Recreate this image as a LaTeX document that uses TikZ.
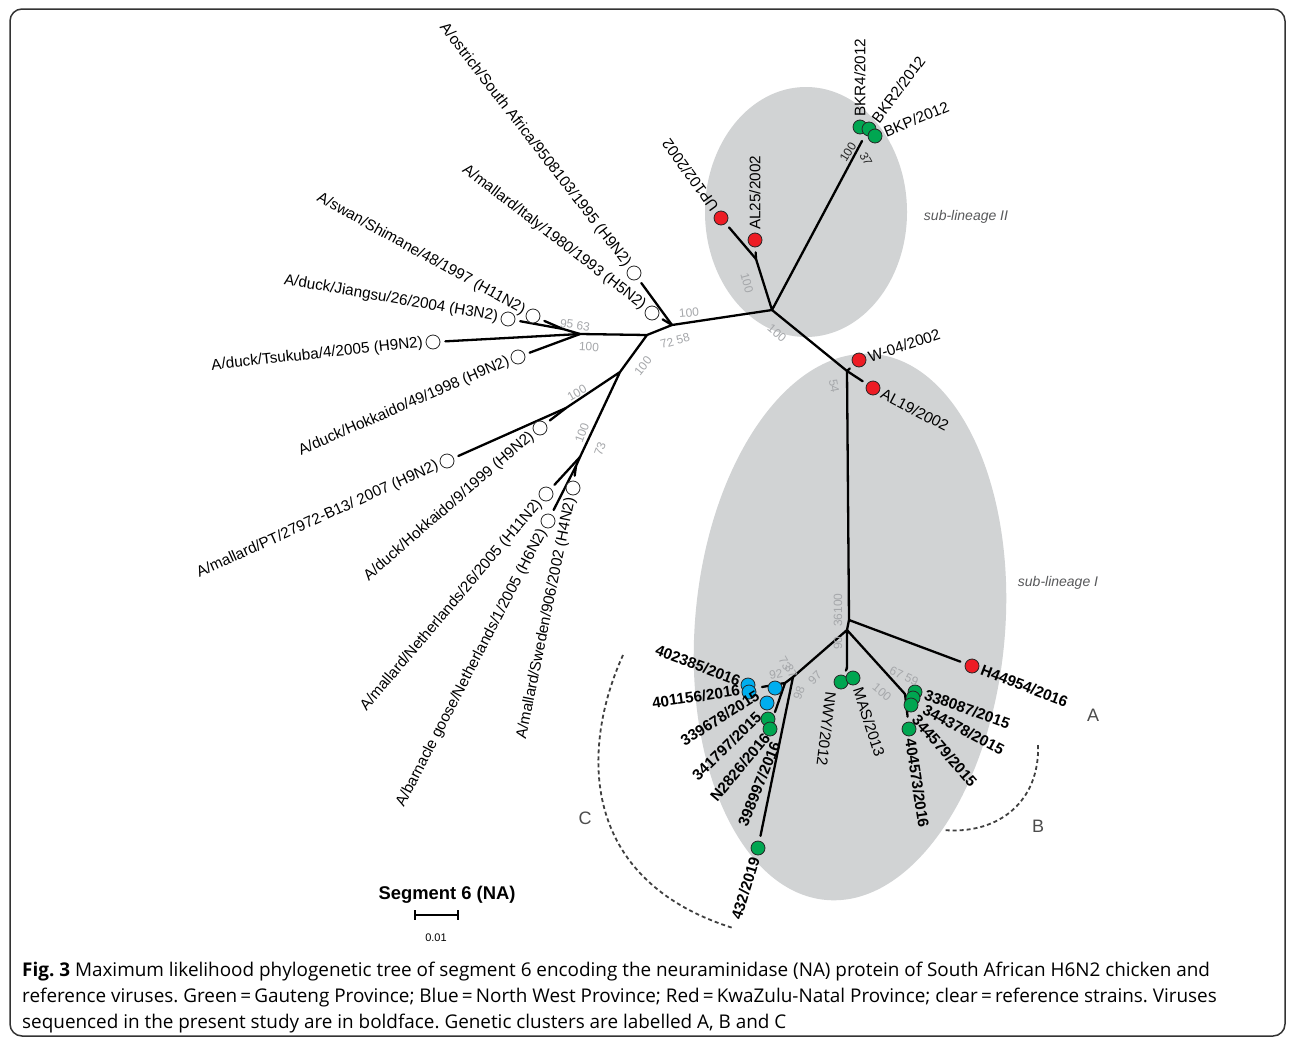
\documentclass[tikz,border=0pt]{standalone}
\usepackage{fontspec}
\setmainfont{Liberation Sans}
\newfontfamily\capfont{Open Sans}
\definecolor{gaut}{RGB}{0,166,81}
\definecolor{nwest}{RGB}{0,174,239}
\definecolor{kzn}{RGB}{237,28,36}
\definecolor{lin}{RGB}{209,211,212}
\definecolor{bsgray}{RGB}{165,167,170}
\definecolor{subg}{RGB}{88,89,91}
\newcommand\lgap{\kern10pt}
\pgfdeclarelayer{back}
\pgfdeclarelayer{mid}
\pgfsetlayers{back,mid,main}
\tikzset{
  br/.style={line width=2.3pt, line cap=round},
  tw/.style={br, shorten >=5pt},
  tipnd/.style={circle, draw=black!85, line width=0.8pt, minimum size=14pt, inner sep=0pt},
  rf/.style={tipnd, fill=white},
  gp/.style={tipnd, fill=gaut},
  nw/.style={tipnd, fill=nwest},
  kz/.style={tipnd, fill=kzn},
  lab/.style={font=\fontsize{15.3}{16}\selectfont, inner sep=0pt},
  labb/.style={lab, font=\fontsize{15.3}{16}\selectfont\bfseries},
  bs/.style={font=\fontsize{12}{12}\selectfont, text=bsgray, inner sep=0pt},
  bsk/.style={bs, text=black!85},
  clus/.style={line width=1.8pt, dash pattern=on 4pt off 3pt, draw=black!75},
  clab/.style={font=\fontsize{18}{18}\selectfont, text=black!70},
  capt/.style={font=\capfont\fontsize{18.9}{20}\selectfont\frenchspacing, inner sep=0pt},
}
\begin{document}
\begin{tikzpicture}[x=1pt,y=-1pt]
\useasboundingbox (0,0) rectangle (1295,1044);

\begin{pgfonlayer}{back}
\fill[white] (0,0) rectangle (1295,1044);
\fill[lin] (806,212) ellipse [x radius=101pt, y radius=125pt];
\fill[lin, rotate around={-5:(850,627)}] (850,627) ellipse [x radius=155pt, y radius=274pt];
\end{pgfonlayer}
\draw[line width=1.5pt, draw=black!80, rounded corners=12pt] (10,9) rectangle (1285,1036);

% inner nodes of the tree
\coordinate (n1) at (672,325);
\coordinate (n0) at (647,335);
\coordinate (nA) at (580,334);
\coordinate (nS) at (563,329);
\coordinate (nB) at (620,372);
\coordinate (nC) at (566,408);
\coordinate (nD) at (580,457);
\coordinate (nD2) at (576,466);
\coordinate (r2) at (772,310);
\coordinate (nU) at (756,259);
\coordinate (nK) at (862,141);
\coordinate (r3) at (847,371);
\coordinate (r4a) at (849,620);
\coordinate (r4) at (847,630);
\coordinate (nM) at (847,668);
\coordinate (nB2) at (905,694);
\coordinate (r5) at (793,677);
\coordinate (nC2) at (785,683);
\coordinate (s1) at (762,687);
\coordinate (s2) at (775,712);

% reference strains
\node[rf] (ost) at (634,273) {};
\node[rf] (ita) at (652,313) {};
\node[rf] (swa) at (533,316) {};
\node[rf] (jia) at (508,319) {};
\node[rf] (tsu) at (433,342) {};
\node[rf] (hk49) at (518,357) {};
\node[rf] (pt) at (447,461) {};
\node[rf] (hk9) at (540,428) {};
\node[rf] (ne26) at (546,494) {};
\node[rf] (goo) at (548,521) {};
\node[rf] (swe) at (573,488) {};
% sub-lineage II
\node[kz] (up) at (721,218) {};
\node[kz] (al25) at (755,240) {};
\node[gp] (bkr4) at (860,127) {};
\node[gp] (bkr2) at (869,129) {};
\node[gp] (bkp) at (875,136) {};
% sub-lineage I
\node[kz] (w04) at (859,360) {};
\node[kz] (al19) at (873,388) {};
\node[kz] (h449) at (972,666) {};
\node[gp] (b1) at (915,692) {};
\node[gp] (b2) at (913,698) {};
\node[gp] (b3) at (911,705) {};
\node[gp] (b4) at (909,729) {};
\node[gp] (nwy) at (841,682) {};
\node[gp] (mas) at (853,678) {};
\node[nw] (c1) at (748,685) {};
\node[nw] (c2) at (749,692) {};
\node[nw] (c3) at (775,688) {};
\node[nw] (c4) at (767,703) {};
\node[gp] (c5) at (768,719) {};
\node[gp] (c6) at (770,729) {};
\node[gp] (c7) at (758,848) {};

\begin{pgfonlayer}{mid}
\draw[br] (n1) -- (r2) (n1) -- (n0) (n0) -- (nA) (n0) -- (nB) (nA) -- (nS)
  (nB) -- (nC) (nB) -- (nD) (nD) -- (nD2);
\draw[br] (r2) -- (nU) (r2) -- (nK) (r2) -- (r3) (r3) -- (r4a) (r4a) -- (r4)
  (r4) -- (nM) (r4) -- (nB2) (r4) -- (r5) (r5) -- (nC2) (nC2) -- (s1) (nC2) -- (s2);
\foreach \a/\b in {n1/ost,n1/ita,nS/swa,nS/jia,nA/tsu,nA/hk49,nC/pt,nC/hk9,nD/ne26,
  nD2/goo,nD2/swe,nU/up,nU/al25,r3/w04,r3/al19,r4a/h449,nM/nwy,nM/mas,nB2/b4,r5/c7}
  \draw[tw] (\a) -- (\b);
\end{pgfonlayer}

\node[lab, anchor=east, rotate=-52.3] at (ost) {A/ostrich/South Africa/9508103/1995 (H9N2)\lgap};
\node[lab, anchor=east, rotate=-37.6] at (ita) {A/mallard/Italy/1980/1993 (H5N2)\lgap};
\node[lab, anchor=east, rotate=-28.9] at (swa) {A/swan/Shimane/48/1997 (H11N2)\lgap};
\node[lab, anchor=east, rotate=-9.8] at (jia) {A/duck/Jiangsu/26/2004 (H3N2)\lgap};
\node[lab, anchor=east, rotate=6.2] at (tsu) {A/duck/Tsukuba/4/2005 (H9N2)\lgap};
\node[lab, anchor=east, rotate=23.4] at (hk49) {A/duck/Hokkaido/49/1998 (H9N2)\lgap};
\node[lab, anchor=east, rotate=24.4] at (pt) {A/mallard/PT/27972-B13/ 2007 (H9N2)\lgap};
\node[lab, anchor=east, rotate=40.8] at (hk9) {A/duck/Hokkaido/9/1999 (H9N2)\lgap};
\node[lab, anchor=east, rotate=49.7] at (ne26) {A/mallard/Netherlands/26/2005 (H11N2)\lgap};
\node[lab, anchor=east, rotate=62.6] at (goo) {A/barnacle goose/Netherlands/1/2005 (H6N2)\lgap};
\node[lab, anchor=east, rotate=78.5] at (swe) {A/mallard/Sweden/906/2002 (H4N2)\lgap};

\node[lab, anchor=west, rotate=125.7] at (up) {\lgap UP102/2002};
\node[lab, anchor=west, rotate=90] at (al25) {\lgap AL25/2002};
\node[lab, anchor=west, rotate=90] at (bkr4) {\lgap BKR4/2012};
\node[lab, anchor=west, rotate=53.4] at (bkr2) {\lgap BKR2/2012};
\node[lab, anchor=west, rotate=22.5] at (bkp) {\lgap BKP/2012};
\node[lab, anchor=west, rotate=18] at (w04) {\lgap W-04/2002};
\node[lab, anchor=west, rotate=-27.6] at (al19) {\lgap AL19/2002};
\node[labb, anchor=west, rotate=-21] at (h449) {\lgap H44954/2016};
\node[labb, anchor=west, rotate=-19.6] at (925,694) {338087/2015};
\node[labb, anchor=west, rotate=-28] at (924,709) {344378/2015};
\node[labb, anchor=west, rotate=-48.7] at (915,717) {344579/2015};
\node[labb, anchor=west, rotate=-81.4] at (b4) {\lgap 404573/2016};
\node[lab, anchor=west, rotate=-97] at (831,692) {NWY/2012};
\node[lab, anchor=west, rotate=-72] at (858,688) {MAS/2013};
\node[labb, anchor=east, rotate=-20.5] at (740,681) {402385/2016};
\node[labb, anchor=east, rotate=8.5] at (740,690) {401156/2016};
\node[labb, anchor=east, rotate=32] at (758,694) {339678/2015};
\node[labb, anchor=east, rotate=44] at (759,715) {341797/2015};
\node[labb, anchor=east, rotate=50] at (767,735) {N2826/2016};
\node[labb, anchor=east, rotate=68] at (776,742) {398997/2016};
\node[labb, anchor=east, rotate=72.7] at (c7) {432/2019\lgap};

% bootstrap values
\node[bs, rotate=5] at (689,313) {100};
\node[bs, rotate=15] at (675,341) {72 58};
\node[bs, rotate=-8] at (575,325) {95 63};
\node[bs, rotate=-3] at (589,347) {100};
\node[bs, rotate=52] at (643,366) {100};
\node[bs, rotate=30] at (577,393) {100};
\node[bs, rotate=70] at (582,433) {100};
\node[bs, rotate=70] at (600,449) {73};
\node[bs, rotate=-75] at (747,283) {100};
\node[bs, rotate=-40] at (777,333) {100};
\node[bs, rotate=-80] at (834,386) {54};
\node[bs, rotate=90] at (838,610) {36100};
\node[bs, rotate=90] at (838,643) {90};
\node[bs, rotate=-25] at (904,676) {67 59};
\node[bs, rotate=-40] at (882,692) {100};
\node[bs, rotate=10] at (776,674) {92};
\node[bs, rotate=-60] at (785,663) {73};
\node[bs, rotate=-60] at (791,671) {37};
\node[bs, rotate=45] at (815,678) {97};
\node[bs, rotate=70] at (799,693) {98};
\node[bsk, rotate=58] at (848,152) {100};
\node[bsk, rotate=-62] at (866,159) {37};

\node[font=\fontsize{14}{14}\selectfont\itshape, text=subg] (sl2) at (966,217) {sub-lineage II};
\node[font=\fontsize{14}{14}\selectfont\itshape, text=subg] (sl1) at (1058,583) {sub-lineage I};

% clusters
\node[clab] (cA) at (1093,715) {A};
\node[clab] (cB) at (1038,826) {B};
\node[clab] (cC) at (585,818) {C};
\draw[clus] (1038,745) .. controls (1040,800) and (1000,835) .. (943,830);
\draw[clus] (623,655) .. controls (580,750) and (580,880) .. (733,928);

% scale bar
\node[font=\fontsize{18.4}{19}\selectfont\bfseries] (seg) at (447,895) {Segment 6 (NA)};
\coordinate (sb1) at (415,915);
\coordinate (sb2) at (458,915);
\draw[line width=1.2pt] (sb1) -- (sb2);
\draw[line width=1.2pt] (415,910) -- (415,920) (458,910) -- (458,920);
\node[font=\fontsize{11}{12}\selectfont] (sbl) at (436,938) {0.01};

% caption
\node[capt, anchor=base west] (cap1) at (22,976) {\textbf{Fig. 3} Maximum likelihood phylogenetic tree of segment 6 encoding the neuraminidase (NA) protein of South African H6N2 chicken and};
\node[capt, anchor=base west] (cap2) at (22,1002) {reference viruses. Green\,=\,Gauteng Province; Blue\,=\,North West Province; Red\,=\,KwaZulu-Natal Province; clear\,=\,reference strains. Viruses};
\node[capt, anchor=base west] (cap3) at (22,1028) {sequenced in the present study are in boldface. Genetic clusters are labelled A, B and C};
\end{tikzpicture}
\end{document}
